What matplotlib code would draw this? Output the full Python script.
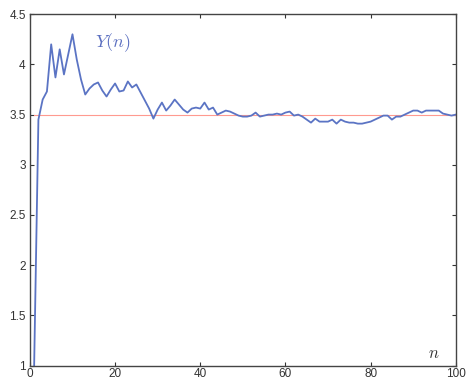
import matplotlib
matplotlib.use("Agg")
import matplotlib.pyplot as plt
import numpy as np

# running average Y(n) over n = 1..100
n = np.arange(1, 101)
y_n = [
    1.00, 3.45, 3.65, 3.73, 4.20, 3.87, 4.15, 3.90, 4.10, 4.30,
    4.05, 3.85, 3.70, 3.76, 3.80, 3.82, 3.74, 3.68, 3.75, 3.81,
    3.73, 3.74, 3.83, 3.77, 3.80, 3.72, 3.64, 3.56, 3.46, 3.55,
    3.62, 3.54, 3.59, 3.65, 3.60, 3.55, 3.52, 3.56, 3.57, 3.56,
    3.62, 3.55, 3.57, 3.50, 3.52, 3.54, 3.53, 3.51, 3.49, 3.48,
    3.48, 3.49, 3.52, 3.48, 3.49, 3.50, 3.50, 3.51, 3.50, 3.52,
    3.53, 3.49, 3.50, 3.48, 3.45, 3.42, 3.46, 3.43, 3.43, 3.43,
    3.45, 3.41, 3.45, 3.43, 3.42, 3.42, 3.41, 3.41, 3.42, 3.43,
    3.45, 3.47, 3.49, 3.49, 3.45, 3.48, 3.48, 3.50, 3.52, 3.54,
    3.54, 3.52, 3.54, 3.54, 3.54, 3.54, 3.51, 3.50, 3.49, 3.50,
]
expected = 3.5

x_ticks = [0, 20, 40, 60, 80, 100]
y_ticks = [1, 1.5, 2, 2.5, 3, 3.5, 4, 4.5]

plt.rcParams['mathtext.fontset'] = 'cm'
plt.rcParams['font.family'] = 'Liberation Sans'

fig = plt.figure(figsize=(4.67, 3.84), dpi=100)
ax = fig.add_axes([0.064, 0.048, 0.912, 0.915])

ax.plot([n[0], n[-1]], [expected, expected], color='#ff9a90', lw=0.8)
ax.plot(n, y_n, color='#5b74c4', lw=1.3)

ax.set_xlim(0, 100)
ax.set_ylim(1, 4.5)
ax.set_xticks(x_ticks)
ax.set_yticks(y_ticks)
ax.set_yticklabels(['1', '1.5', '2', '2.5', '3', '3.5', '4', '4.5'])
ax.tick_params(direction='in', top=True, right=True, length=3, width=0.8,
               labelsize=8.5, colors='#333333', pad=3)
ax.tick_params(axis='x', pad=1.5)
for s in ax.spines.values():
    s.set_color('#444444')
    s.set_linewidth(1.0)

ax.text(15.2, 4.22, r'$Y(n)$', color='#5b6fc0', fontsize=13, va='center')
ax.text(93.5, 1.12, r'$n$', color='#333333', fontsize=12, va='center')

fig.savefig('out.png', dpi=100)
